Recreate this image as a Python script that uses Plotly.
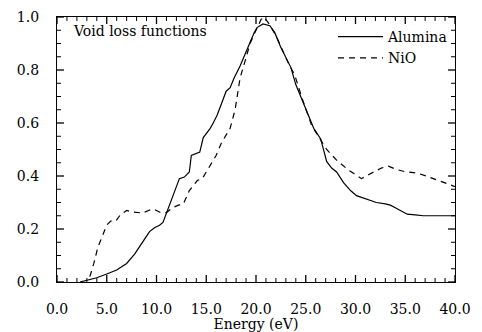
import plotly.graph_objects as go

alumina_x = [2.3, 3.0, 4.0, 5.0, 6.0, 7.0, 7.8, 8.5, 9.3, 9.8, 10.3, 10.65, 11.3, 12.3, 12.8, 13.3,
             13.5, 14.35, 14.7, 15.4, 15.7, 16.1, 16.5, 17.0, 17.4, 17.8, 18.4, 18.9, 19.4, 19.8,
             20.1, 20.7, 21.4, 21.9, 22.5, 23.0, 23.5, 24.0, 24.6, 25.2, 25.8, 26.5, 27.1, 27.6,
             28.1, 28.8, 29.5, 30.1, 31.1, 32.1, 33.0, 33.5, 34.0, 34.5, 35.2, 36.0, 36.8, 38.0, 40.0]
alumina_y = [0.0, 0.007, 0.016, 0.03, 0.045, 0.07, 0.105, 0.145, 0.19, 0.205, 0.214, 0.225, 0.288, 0.39, 0.396, 0.415,
             0.478, 0.49, 0.545, 0.58, 0.6, 0.63, 0.67, 0.72, 0.733, 0.77, 0.815, 0.86, 0.9, 0.94,
             0.96, 0.974, 0.967, 0.94, 0.885, 0.845, 0.81, 0.745, 0.69, 0.63, 0.58, 0.54, 0.455, 0.43,
             0.415, 0.375, 0.345, 0.326, 0.313, 0.30, 0.295, 0.29, 0.28, 0.27, 0.256, 0.253, 0.25, 0.25, 0.25]

nio_x = [3.3, 3.7, 4.1, 4.6, 5.0, 5.4, 5.9, 6.4, 7.0, 7.5, 8.0, 8.6, 9.2, 9.6, 10.0, 10.4, 11.0,
         11.6, 12.2, 12.7, 13.3, 14.1, 14.6, 15.2, 16.0, 16.5, 17.4, 17.9, 18.4, 19.05, 19.4, 20.0,
         20.5, 20.8, 21.3, 22.0, 22.6, 23.2, 23.9, 24.75, 25.6, 26.4, 27.1, 28.1, 29.2, 29.8, 30.6,
         31.3, 31.9, 32.6, 33.3, 34.1, 34.9, 35.6, 36.3, 37.1, 37.9, 38.6, 39.5, 40.0]
nio_y = [0.02, 0.07, 0.13, 0.18, 0.215, 0.23, 0.23, 0.255, 0.27, 0.265, 0.263, 0.26, 0.27, 0.275, 0.27, 0.262, 0.262,
         0.28, 0.29, 0.294, 0.345, 0.383, 0.39, 0.428, 0.478, 0.523, 0.58, 0.65, 0.77, 0.853, 0.9, 0.95,
         0.99, 1.0, 0.975, 0.93, 0.88, 0.83, 0.78, 0.68, 0.59, 0.54, 0.5, 0.46, 0.425, 0.41, 0.39,
         0.405, 0.417, 0.43, 0.437, 0.425, 0.417, 0.413, 0.41, 0.4, 0.39, 0.38, 0.367, 0.36]

x_ticks = [0, 5, 10, 15, 20, 25, 30, 35, 40]
x_ticklabels = ["0.0", "5.0", "10.0", "15.0", "20.0", "25.0", "30.0", "35.0", "40.0"]
y_ticks = [0.0, 0.2, 0.4, 0.6, 0.8, 1.0]
y_ticklabels = ["0.0", "0.2", "0.4", "0.6", "0.8", "1.0"]
x_minor = [v for v in range(0, 41) if v % 5 != 0]
y_minor = [round(i * 0.05, 2) for i in range(21) if i % 4 != 0]

X_RANGE = [0, 40]
Y_RANGE = [0, 1.0]
FONT = "DejaVu Serif"

fig = go.Figure()
fig.add_trace(go.Scatter(x=alumina_x, y=alumina_y, mode="lines", name="Alumina",
                         line=dict(color="black", width=1.2)))
fig.add_trace(go.Scatter(x=nio_x, y=nio_y, mode="lines", name="NiO",
                         line=dict(color="black", width=1.2, dash="6px,5px")))

# axes carry the labels; invisible outside ticks only set the label gap
label_axis = dict(showgrid=False, zeroline=False, showline=True, linecolor="black", linewidth=1.2,
                  mirror=True, ticks="outside", tickcolor="rgba(0,0,0,0)", tickwidth=1,
                  tickfont=dict(family=FONT, size=14, color="black"), automargin=False)
fig.update_layout(
    xaxis=dict(range=X_RANGE, tickmode="array", tickvals=x_ticks, ticktext=x_ticklabels, ticklen=14,
               title=dict(text="Energy (eV)", font=dict(family=FONT, size=14, color="black"), standoff=0),
               **label_axis),
    yaxis=dict(range=Y_RANGE, tickmode="array", tickvals=y_ticks, ticktext=y_ticklabels, ticklen=14,
               **label_axis),
)

# inside tick marks on all four sides, placed through the axis scales
def x_tick(t, length, width):
    for anchor, a, b in ((Y_RANGE[0], 0, length), (Y_RANGE[1], -length, 0)):
        fig.add_shape(type="line", xref="x", yref="y", x0=t, x1=t, ysizemode="pixel", yanchor=anchor,
                      y0=a, y1=b, line=dict(color="black", width=width), layer="above")

def y_tick(t, length, width):
    for anchor, a, b in ((X_RANGE[0], 0, length), (X_RANGE[1], -length, 0)):
        fig.add_shape(type="line", xref="x", yref="y", y0=t, y1=t, xsizemode="pixel", xanchor=anchor,
                      x0=a, x1=b, line=dict(color="black", width=width), layer="above")

for t in x_ticks:
    x_tick(t, 7, 1.3)
for t in x_minor:
    x_tick(t, 4, 1)
for t in y_ticks:
    y_tick(t, 7, 1.3)
for t in y_minor:
    y_tick(t, 4, 1)

fig.add_annotation(text="Void loss functions", xref="paper", yref="paper", x=0.035, y=0.985,
                   xanchor="left", yanchor="top", showarrow=False,
                   font=dict(family=FONT, size=14, color="black"))

fig.update_layout(
    width=482, height=332,
    margin=dict(l=57, r=27, t=17, b=50),
    paper_bgcolor="white", plot_bgcolor="white",
    showlegend=True,
    legend=dict(x=0.995, y=0.985, xanchor="right", yanchor="top", bgcolor="rgba(0,0,0,0)",
                font=dict(family=FONT, size=14, color="black"), itemwidth=45, tracegroupgap=0,
                traceorder="normal"),
)

fig.write_html("out.html", config={"displayModeBar": False},
               post_script="document.body.style.margin='0';")
